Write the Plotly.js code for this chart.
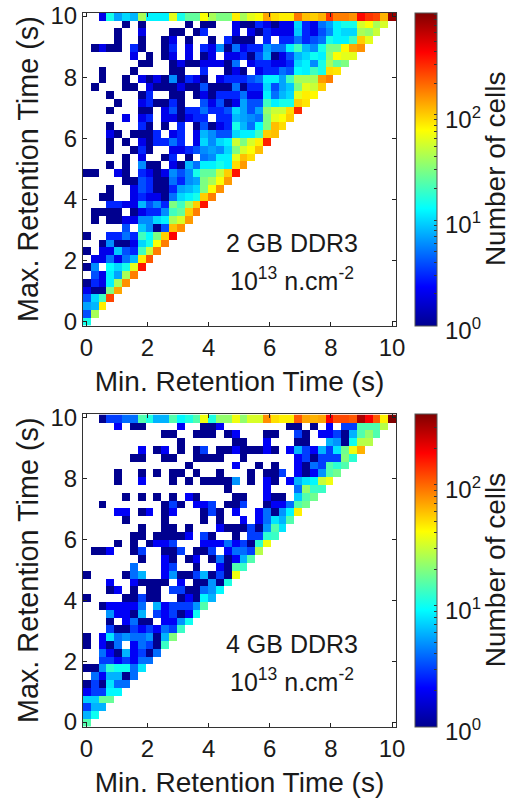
<!DOCTYPE html>
<html><head><meta charset="utf-8">
<script src="https://cdn.plot.ly/plotly-3.0.1.min.js"></script>
<style>html,body{margin:0;padding:0;background:#fff}</style></head>
<body><div id="chart" style="width:514px;height:802px"></div>
<script>
// Cell counts per bin, rows listed from top (max. retention ~10 s) to bottom; 0 = empty bin
const cells2GB = [
[0,0,2,15,7,10,8,40,12,12,12,60,15,25,25,70,40,30,30,80,40,60,70,130,90,80,80,180,110,100,120,280,170,170,150,380,280,250,120,800],
[0,0,0,0,0,1,0,1,0,0,0,0,0,1,0,1,1,0,0,2,1,1,3,2,1,2,2,10,3,2,5,7,12,15,15,55,70,40,55],
[0,0,0,0,1,0,0,2,0,0,0,1,1,0,1,3,0,0,0,2,0,2,1,3,2,2,2,9,3,2,4,6,12,10,10,40,35,50],
[0,0,0,0,1,0,0,1,0,0,1,2,0,1,0,0,1,0,3,1,1,1,0,3,0,3,3,5,3,4,5,15,12,12,20,100,60],
[0,1,2,1,1,0,3,1,0,0,1,3,0,2,0,3,2,6,1,5,2,3,3,7,5,5,12,20,8,6,15,30,30,75,130,150],
[0,0,0,0,0,0,2,0,1,0,1,2,0,2,0,1,2,0,2,2,3,1,4,8,1,2,4,8,10,14,12,35,70,60,60],
[0,0,0,0,0,0,0,1,1,0,0,1,2,1,1,2,2,2,1,5,0,2,3,3,2,2,3,10,12,6,15,40,25,30],
[0,0,1,0,0,0,1,0,0,0,0,1,1,0,0,3,0,0,1,2,1,0,2,3,3,5,4,13,12,20,15,90,85],
[0,0,1,0,0,1,0,2,1,2,1,6,1,3,2,1,0,2,3,3,3,4,5,12,12,7,20,40,40,40,140,170],
[0,1,0,0,0,1,1,0,2,1,1,1,2,1,1,4,1,1,1,5,1,3,3,10,4,7,9,30,60,50,100],
[0,0,0,1,0,0,0,1,3,0,0,1,1,0,1,2,1,3,3,3,5,2,2,12,5,8,10,60,80,75],
[0,0,0,0,1,0,0,2,3,1,1,3,1,0,0,4,2,4,1,2,7,4,4,20,12,15,15,100,85],
[0,0,0,1,0,0,0,1,1,0,2,4,1,3,3,5,3,3,4,10,7,4,7,35,50,50,90,300],
[0,0,0,0,0,2,0,2,3,0,2,2,1,2,3,3,0,3,3,8,7,6,5,30,60,70,100],
[0,0,0,1,0,0,0,3,1,0,1,0,3,0,1,4,1,2,3,15,8,5,13,30,110,90],
[0,0,0,2,1,0,1,1,1,3,0,2,3,0,2,8,6,4,4,10,12,12,20,100,110],
[0,0,0,1,0,1,0,2,1,3,3,5,3,0,2,10,6,10,12,50,30,55,80,320],
[0,0,0,1,0,0,1,3,1,0,0,2,2,3,4,6,7,6,10,30,55,70,110],
[0,0,0,0,0,1,0,2,0,0,1,3,0,1,0,5,6,12,12,60,110,90],
[0,0,0,1,0,1,0,6,1,1,0,2,1,8,5,12,12,15,12,90,140],
[1,1,0,0,2,1,0,3,2,1,2,6,4,6,15,25,25,50,100,350],
[0,0,0,0,0,1,1,4,3,1,1,5,3,6,7,30,40,70,140],
[0,0,0,1,0,0,2,4,3,1,1,3,7,8,10,30,70,150],
[0,0,1,1,0,0,2,3,2,2,1,5,10,12,15,100,170],
[0,0,0,3,3,2,2,8,4,6,3,30,20,40,100,350],
[0,1,1,1,1,0,1,2,3,3,6,20,25,100,170],
[0,1,0,1,1,2,2,6,6,10,12,40,55,140],
[0,0,0,0,0,4,0,9,6,1,4,110,150],
[1,0,0,3,3,5,3,20,13,30,100,400],
[0,0,1,6,1,1,2,10,15,70,170],
[1,0,2,2,9,4,3,20,50,170],
[0,2,2,5,2,5,8,80,220],
[1,6,0,13,10,15,60,350],
[0,4,2,12,7,40,170],
[1,3,2,12,40,150],
[2,1,1,30,130],
[4,10,20,250],
[7,8,80],
[4,40],
[15]
];
const cells4GB = [
[0,0,1,3,3,4,4,15,11,6,6,15,9,11,15,38,11,22,22,38,22,33,33,80,50,45,45,110,70,65,70,190,120,120,110,300,190,110,45,420],
[0,0,0,0,2,0,1,1,0,0,0,0,2,0,0,1,1,2,0,0,0,0,0,0,0,0,1,1,0,1,0,2,0,3,3,15,15,15,27],
[0,0,0,0,0,0,0,0,0,0,1,1,0,0,1,1,1,0,1,2,0,0,0,1,1,0,0,3,1,0,2,2,3,1,6,15,22,15],
[0,0,0,0,0,0,0,0,0,0,0,0,1,0,0,0,0,0,0,1,1,0,0,2,0,0,0,1,1,0,0,6,5,1,10,27,27],
[0,0,0,0,0,0,0,2,0,1,2,0,1,0,1,3,0,1,1,2,1,1,1,2,1,0,2,6,3,2,6,3,8,18,38,65],
[0,0,0,0,0,0,1,1,0,0,1,1,0,0,1,1,1,1,0,0,1,0,0,0,0,0,0,2,3,1,3,3,3,20,12],
[0,0,0,0,0,0,0,0,0,0,0,0,0,1,0,0,0,0,0,2,0,0,1,0,1,0,0,2,1,4,3,15,12,15],
[0,0,0,0,1,0,0,1,0,1,0,1,1,0,1,0,0,1,0,0,0,1,0,1,1,3,0,2,1,2,5,15,18],
[0,0,0,0,1,0,0,2,0,0,0,1,0,1,0,1,1,1,1,5,0,1,0,2,1,0,2,6,8,9,30,38],
[0,0,0,0,0,0,0,0,0,0,0,0,0,0,0,0,0,0,1,0,0,0,0,2,0,0,0,4,22,13,13],
[0,0,0,0,0,1,0,1,0,1,0,1,0,2,1,0,0,0,0,1,1,0,0,2,1,1,0,7,15,18],
[0,0,1,0,0,0,0,0,0,0,1,3,1,0,2,2,3,0,1,1,3,0,0,1,2,2,4,15,18],
[0,0,0,0,2,2,0,1,2,0,1,2,0,0,0,1,3,1,0,2,0,0,2,4,1,5,9,45],
[0,0,0,0,0,1,0,0,0,0,1,0,0,0,0,1,0,1,0,0,2,0,2,4,8,6,15],
[0,0,0,0,0,0,0,1,0,0,1,1,0,1,0,0,0,2,1,1,1,3,1,5,15,8],
[0,0,0,0,0,0,1,1,0,1,1,1,1,2,0,3,1,0,0,1,0,3,3,12,13],
[0,0,0,0,1,0,1,0,1,2,2,3,0,0,0,2,2,2,4,2,3,1,12,38],
[0,1,1,2,0,0,1,3,0,0,1,1,3,0,1,1,3,0,2,4,4,3,27],
[0,0,0,0,0,0,0,1,0,0,2,1,0,1,2,0,1,4,1,2,6,15],
[0,0,0,0,0,0,4,0,0,0,2,3,0,0,1,0,0,2,1,15,13],
[1,0,0,0,0,1,4,6,0,0,2,5,1,1,3,6,1,3,1,38],
[0,0,0,2,0,0,2,1,1,1,1,0,2,0,1,1,5,1,11],
[0,0,0,1,2,0,1,0,1,1,0,3,3,1,1,4,5,9],
[1,0,0,0,0,1,1,3,1,1,0,0,1,2,1,9,6],
[0,0,1,2,2,2,2,4,0,6,2,3,3,3,5,15],
[0,0,0,5,2,2,1,6,0,3,2,3,1,2,10],
[0,0,0,1,0,2,4,1,1,0,2,2,5,10],
[0,0,0,3,1,1,3,2,3,2,4,3,13],
[1,0,2,8,4,5,4,4,5,1,6,20],
[1,0,2,1,4,0,2,4,3,1,13],
[0,0,4,2,1,6,2,3,1,4],
[0,0,3,3,2,3,2,4,4],
[1,1,5,12,10,10,4,8],
[0,4,2,6,6,1,4],
[1,3,1,8,4,4],
[2,3,3,9,9],
[7,7,17,17],
[3,6,6],
[6,10],
[15]
];
const timeTicks = [0,2,4,6,8,10];
const xTitle = 'Min. Retention Time (s)';
const yTitle = 'Max. Retention Time (s)';
const cbTitle = 'Number of cells';
const notes = [['2 GB DDR3','10<sup>13</sup> n.cm<sup>-2</sup>'],['4 GB DDR3','10<sup>13</sup> n.cm<sup>-2</sup>']];
const cbMajorText = ['10<sup>0</sup>','10<sup>1</sup>','10<sup>2</sup>'];
const logMax = [2.97, 2.587];

const W = 514, H = 802, FONT = 'Liberation Sans, Arial, sans-serif', INK = '#1a1a1a';
const jet = [[0,'rgb(0,0,143)'],[0.125,'rgb(0,0,255)'],[0.375,'rgb(0,255,255)'],[0.625,'rgb(255,255,0)'],[0.875,'rgb(255,0,0)'],[1,'rgb(128,0,0)']];
const binW = 0.256, NB = 40;

function toZ(rows){
  const z = rows.map(r => { const o = []; for(let i=0;i<NB;i++){const v=r[i]; o.push(v? Math.log10(v): null);} return o; });
  return z.reverse();
}
function cbTicks(maxv){
  const vals=[];
  for(let d=0;d<3;d++) for(let m=1;m<10;m++){
    const v=d+Math.log10(m);
    if(v<=maxv) vals.push(v);
  }
  return vals;
}
const boxes = [
  {left:83,right:396,top:12.7,bottom:325.5,xr:[-0.11,10.13],yr:[-0.13,10.11]},
  {left:83,right:396,top:414,bottom:726.5,xr:[-0.11,10.13],yr:[-0.145,10.12]}
];
const data=[], layout={width:W,height:H,margin:{l:0,r:0,t:0,b:0},paper_bgcolor:'#fff',plot_bgcolor:'#fff',showlegend:false,font:{family:FONT,color:INK,size:24},annotations:[]};
[cells2GB,cells4GB].forEach((rows,k)=>{
  const b=boxes[k], s=k?'2':'';
  data.push({type:'heatmap',z:toZ(rows),x0:b.xr[0]+binW/2,dx:binW,y0:b.yr[0]+binW/2,dy:binW,xaxis:'x'+s,yaxis:'y'+s,coloraxis:'coloraxis'+s,hoverongaps:false});
  layout['coloraxis'+s]={cmin:0,cmax:logMax[k],colorscale:jet,colorbar:{
    x:415/W,xref:'paper',xanchor:'left',thickness:22,thicknessmode:'pixels',
    len:b.bottom-b.top,lenmode:'pixels',y:1-(b.top+b.bottom)/2/H,yref:'paper',yanchor:'middle',ypad:0,xpad:0,
    tickmode:'array',tickvals:cbTicks(logMax[k]),showticklabels:false,
    ticks:'inside',ticklen:3,tickcolor:'#333',tickwidth:1,outlinecolor:'#555',outlinewidth:1
  }};
  const ax={showgrid:false,zeroline:false,showline:true,mirror:'ticks',linecolor:'#333',linewidth:1,ticks:'inside',ticklen:4,tickcolor:'#222',tickmode:'array',tickvals:timeTicks,ticktext:timeTicks.map(String),tickfont:{family:FONT,size:24,color:INK}};
  layout['xaxis'+s]=Object.assign({},ax,{domain:[b.left/W,b.right/W],range:b.xr,anchor:'y'+s,ticklabelstandoff:1,title:{text:xTitle,font:{family:FONT,size:28,color:INK},standoff:11}});
  layout['yaxis'+s]=Object.assign({},ax,{domain:[1-b.bottom/H,1-b.top/H],range:b.yr,anchor:'x'+s,title:{text:yTitle,font:{family:FONT,size:28.8,color:INK},standoff:3}});
  notes[k].forEach((txt,j)=>{
    layout.annotations.push({xref:'x'+s,yref:'y'+s,x:6.72,y:j?1.39:2.57,text:txt,showarrow:false,xanchor:'center',yanchor:'middle',font:{family:FONT,size:25,color:INK}});
  });
  // colorbar decade labels and title, placed on the same log scale as the colorbar
  const barH=b.bottom-b.top;
  cbMajorText.forEach((txt,d)=>{
    const frac=d/logMax[k];
    layout.annotations.push({xref:'paper',yref:'paper',x:443/W,y:1-(b.bottom-frac*barH)/H,yshift:-3,text:txt,showarrow:false,xanchor:'left',yanchor:'middle',font:{family:FONT,size:24,color:INK}});
  });
  layout.annotations.push({xref:'paper',yref:'paper',x:495/W,y:1-(b.top+b.bottom)/2/H,text:cbTitle,textangle:-90,showarrow:false,xanchor:'center',yanchor:'middle',font:{family:FONT,size:28,color:INK}});
});
Plotly.newPlot('chart',data,layout,{displayModeBar:false,staticPlot:true});
</script></body></html>
